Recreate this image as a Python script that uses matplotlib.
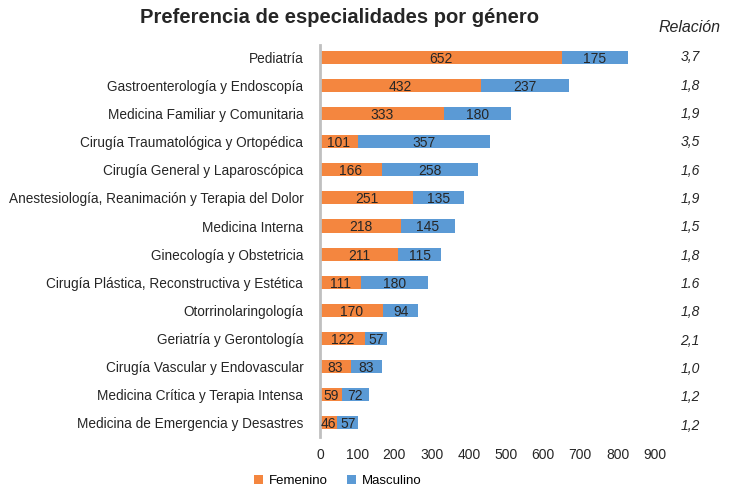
import numpy as np
import matplotlib
matplotlib.use('Agg')
import matplotlib.pyplot as plt
import matplotlib.transforms as mtransforms

especialidades = [
    'Pediatría',
    'Gastroenterología y Endoscopía',
    'Medicina Familiar y Comunitaria',
    'Cirugía Traumatológica y Ortopédica',
    'Cirugía General y Laparoscópica',
    'Anestesiología, Reanimación y Terapia del Dolor',
    'Medicina Interna',
    'Ginecología y Obstetricia',
    'Cirugía Plástica, Reconstructiva y Estética',
    'Otorrinolaringología',
    'Geriatría y Gerontología',
    'Cirugía Vascular y Endovascular',
    'Medicina Crítica y Terapia Intensa',
    'Medicina de Emergencia y Desastres',
]
femenino = [652, 432, 333, 101, 166, 251, 218, 211, 111, 170, 122, 83, 59, 46]
masculino = [175, 237, 180, 357, 258, 135, 145, 115, 180, 94, 57, 83, 72, 57]
relacion = ['3,7', '1,8', '1,9', '3,5', '1,6', '1,9', '1,5', '1,8', '1.6', '1,8', '2,1', '1,0', '1,2', '1,2']

plt.rcParams['font.family'] = ['Liberation Sans', 'DejaVu Sans']

naranja = '#F4863F'
azul = '#5B9AD5'
texto = '#262626'

fig = plt.figure(figsize=(7.34, 4.86), dpi=100)
ax = fig.add_axes([0.436, 0.101, 0.456, 0.806])

y = np.arange(len(especialidades))
h = 0.47
b1 = ax.barh(y, femenino, h, color=naranja, label='Femenino')
b2 = ax.barh(y, masculino, h, left=femenino, color=azul, label='Masculino')

for barras in (b1, b2):
    for t in ax.bar_label(barras, label_type='center', fontsize=10, color=texto):
        t.set_y(t.get_position()[1] + 0.05)
        t.set_va('center_baseline')

ax.set_xlim(0, 900)
ax.set_xticks(np.arange(0, 901, 100))
ax.set_ylim(13.5, -0.43)
ax.set_yticks(y)
ax.set_yticklabels(especialidades, fontsize=9.8, color=texto)
ax.tick_params(axis='x', length=0, labelsize=10, labelcolor=texto, pad=8)
ax.tick_params(axis='y', length=0, pad=12)

for s in ['top', 'right', 'bottom']:
    ax.spines[s].set_visible(False)
ax.spines['left'].set_color('#c0c0c0')
ax.spines['left'].set_linewidth(2)

# columna de relacion
trans = mtransforms.blended_transform_factory(fig.transFigure, ax.transData)
for i, r in enumerate(relacion):
    ax.text(0.94, i + 0.1 * i / 13, r, transform=trans, ha='center', va='center',
            fontsize=10, style='italic', color=texto)
fig.text(0.94, 0.943, 'Relación', ha='center', va='center', fontsize=11.5,
         style='italic', color=texto)

fig.text(0.463, 0.965, 'Preferencia de especialidades por género', ha='center',
         va='center', fontsize=14.5, fontweight='bold', color=texto)

fig.legend(handles=[b1, b2], labels=['Femenino', 'Masculino'], loc='lower center',
           bbox_to_anchor=(0.46, -0.026), ncol=2, frameon=False, fontsize=9.5,
           handlelength=0.7, handleheight=0.7, handletextpad=0.4, columnspacing=1.5)

fig.savefig('out.png', dpi=100)
